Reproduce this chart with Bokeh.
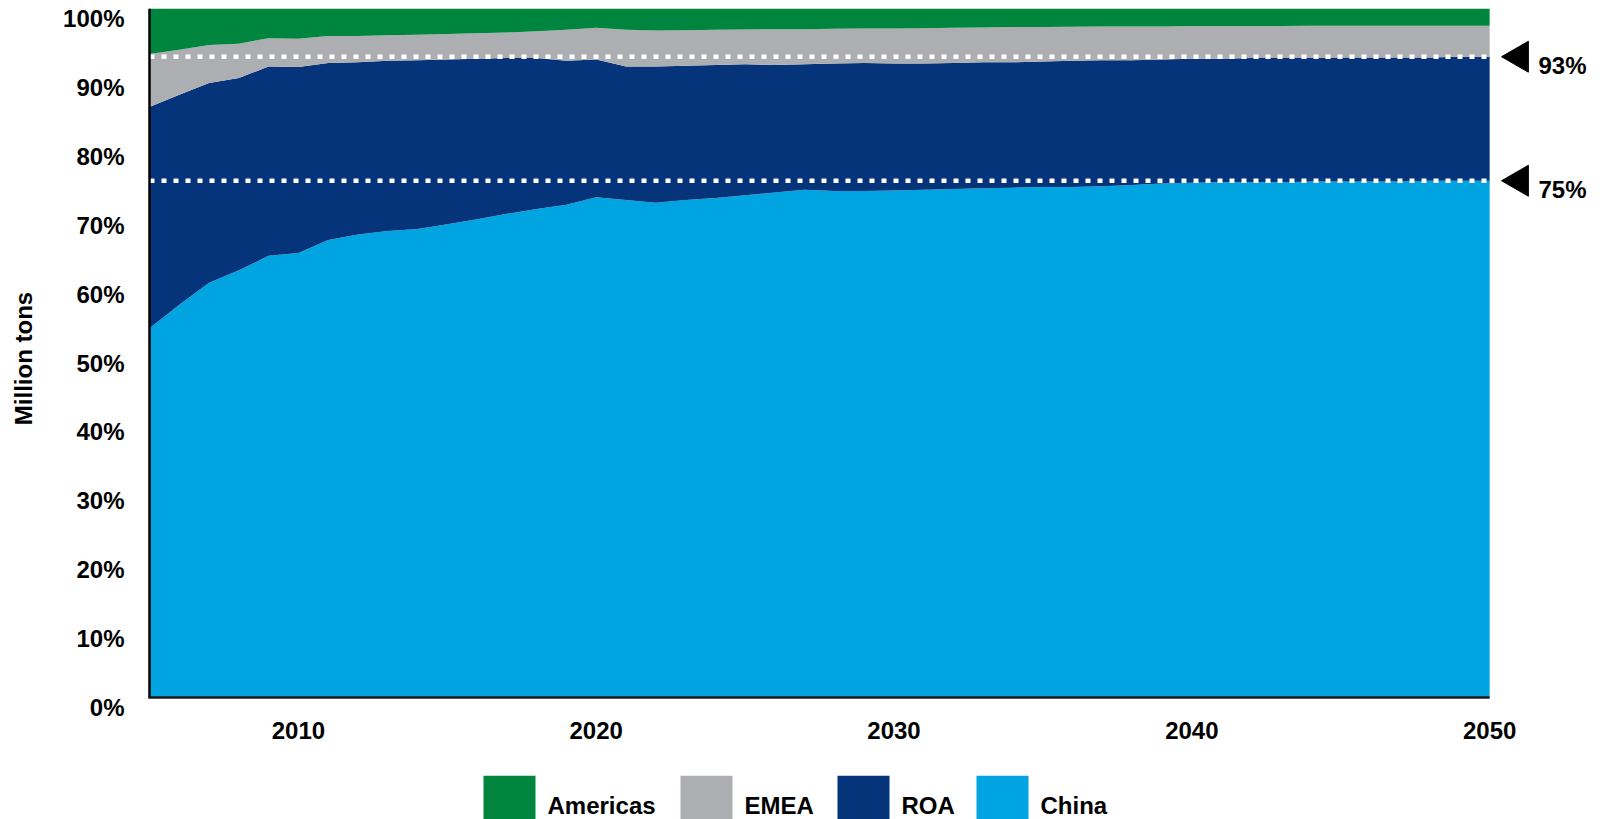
import math

from bokeh.core.properties import value
from bokeh.embed import file_html
from bokeh.layouts import column
from bokeh.models import ColumnDataSource, FixedTicker, LinearAxis, Range1d
from bokeh.plotting import figure
from bokeh.resources import INLINE

# ---- data: regional share of output, percent of total ----
years = list(range(2005, 2051))

china = [53.6, 57.0, 60.2, 62.0, 64.1, 64.5, 66.4, 67.2, 67.7, 68.0,
         68.7, 69.4, 70.2, 70.9, 71.5, 72.6, 72.2, 71.8, 72.2, 72.5,
         72.9, 73.3, 73.7, 73.5, 73.5, 73.6, 73.7, 73.8, 73.9, 74.0,
         74.1, 74.1, 74.2, 74.4, 74.6, 74.7, 74.8, 74.8, 74.8, 74.9,
         74.9, 74.9, 74.9, 75.0, 75.0, 75.0]

roa = [32.1, 30.5, 29.0, 27.9, 27.5, 27.0, 25.7, 25.0, 24.7, 24.5,
       23.9, 23.3, 22.6, 21.9, 20.9, 20.0, 19.4, 19.8, 19.5, 19.3,
       19.0, 18.5, 18.2, 18.5, 18.6, 18.4, 18.3, 18.3, 18.3, 18.2,
       18.2, 18.3, 18.3, 18.1, 18.0, 18.0, 17.9, 18.0, 18.0, 17.9,
       18.0, 18.0, 18.0, 17.9, 18.0, 18.0]

emea = [7.7, 6.5, 5.5, 5.0, 4.1, 4.1, 3.9, 3.8, 3.7, 3.7,
        3.7, 3.7, 3.7, 3.9, 4.5, 4.6, 5.3, 5.2, 5.15, 5.1,
        5.05, 5.2, 5.1, 5.05, 5.0, 5.1, 5.15, 5.1, 5.05, 5.1,
        5.0, 4.95, 4.9, 4.9, 4.8, 4.75, 4.75, 4.65, 4.65, 4.7,
        4.6, 4.6, 4.6, 4.6, 4.5, 4.5]

americas = [6.6, 6.0, 5.3, 5.1, 4.3, 4.4, 4.0, 4.0, 3.9, 3.8,
            3.7, 3.6, 3.5, 3.3, 3.1, 2.8, 3.1, 3.2, 3.15, 3.1,
            3.05, 3.0, 3.0, 2.95, 2.9, 2.9, 2.85, 2.8, 2.75, 2.7,
            2.7, 2.65, 2.6, 2.6, 2.6, 2.55, 2.55, 2.55, 2.55, 2.5,
            2.5, 2.5, 2.5, 2.5, 2.5, 2.5]

regions = ["Americas", "EMEA", "ROA", "China"]          # legend order
stack_order = ["china", "roa", "emea", "americas"]       # bottom to top
region_colors = ["#00853F", "#ADAEB1", "#06347A", "#00A4E1"]

# cumulative shares called out on the right edge
marked_shares = [93, 75]

x_ticks = [2010, 2020, 2030, 2040, 2050]
x_tick_labels = ["2010", "2020", "2030", "2040", "2050"]
y_ticks = [0, 10, 20, 30, 40, 50, 60, 70, 80, 90, 100]
y_tick_labels = ["0%", "10%", "20%", "30%", "40%", "50%", "60%", "70%", "80%", "90%", "100%"]

# ---- styling ----
FONT = "Liberation Sans"
TXT = "24px"
PX_PER_YEAR = 1342 / 45          # horizontal scale of the frame
PX_PER_PCT = 6.89                # vertical scale of the frame
LABEL_DROP = 10 / PX_PER_PCT     # y tick labels sit a little under their level

source = ColumnDataSource(dict(year=years, china=china, roa=roa,
                               emea=emea, americas=americas))

x_start = years[0] - 2 / PX_PER_YEAR
x_end = years[0] + 1455 / PX_PER_YEAR
y_start = -11 / PX_PER_PCT

p = figure(width=1602, height=775,
           x_range=Range1d(x_start, x_end), y_range=Range1d(y_start, 100),
           y_axis_location=None,
           output_backend="svg", toolbar_location=None,
           min_border_left=145, min_border_right=0,
           min_border_top=8, min_border_bottom=67)
p.outline_line_color = None
p.xgrid.visible = False
p.ygrid.visible = False
p.background_fill_color = "white"
p.border_fill_color = "white"

# stacked areas: China at the bottom, Americas on top
stack_colors = [region_colors[regions.index(n)] for n in ["China", "ROA", "EMEA", "Americas"]]
p.varea_stack(stackers=stack_order, x="year", color=stack_colors, source=source)

# dotted reference lines at the marked cumulative shares
p.segment(x0=[years[0]] * len(marked_shares), x1=[years[-1]] * len(marked_shares),
          y0=marked_shares, y1=marked_shares,
          line_color="white", line_width=4.5, line_dash="5 7")

# axis lines along the left and bottom of the areas
p.segment(x0=[years[0]], x1=[years[0]], y0=[0], y1=[100],
          line_color="black", line_width=2.5)
p.segment(x0=[years[0] - 1.25 / PX_PER_YEAR], x1=[years[-1]], y0=[0], y1=[0],
          line_color="#1a1a1a", line_width=2.5)

# pointers and labels to the right of the areas
mark_x = years[-1] + 1.0
p.scatter(x=[mark_x] * len(marked_shares), y=marked_shares, marker="triangle",
          size=31, angle=math.pi / 2, color="black")
p.text(x=[years[-1] + 1.64] * len(marked_shares), y=marked_shares,
       text=[f"{v}%" for v in marked_shares],
       text_font=value(FONT), text_font_style="bold", text_font_size=TXT,
       text_color="black", text_align="left", text_baseline="top", y_offset=-5)

# y axis on a range offset so the labels hang just below each level
p.extra_y_ranges = {"ylab": Range1d(y_start + LABEL_DROP, 100 + LABEL_DROP)}
ya = LinearAxis(y_range_name="ylab")
ya.ticker = FixedTicker(ticks=y_ticks)
ya.major_label_overrides = {t: s for t, s in zip(y_ticks, y_tick_labels)}
ya.major_tick_line_color = None
ya.minor_tick_line_color = None
ya.major_tick_out = 0
ya.major_tick_in = 0
ya.axis_line_color = None
ya.major_label_standoff = 23
ya.major_label_text_font = FONT
ya.major_label_text_font_style = "bold"
ya.major_label_text_font_size = TXT
ya.major_label_text_color = "black"
ya.axis_label = "Million tons"
ya.axis_label_text_font = FONT
ya.axis_label_text_font_style = "bold"
ya.axis_label_text_font_size = TXT
ya.axis_label_text_color = "black"
ya.axis_label_standoff = 23
p.add_layout(ya, "left")

# x axis
xa = p.xaxis[0]
xa.ticker = FixedTicker(ticks=x_ticks)
xa.major_label_overrides = {t: s for t, s in zip(x_ticks, x_tick_labels)}
xa.major_tick_line_color = None
xa.minor_tick_line_color = None
xa.major_tick_out = 0
xa.major_tick_in = 0
xa.axis_line_color = None
xa.major_label_standoff = 13
xa.major_label_text_font = FONT
xa.major_label_text_font_style = "bold"
xa.major_label_text_font_size = TXT
xa.major_label_text_color = "black"

# ---- legend strip (pixel coordinates) ----
leg = figure(width=1602, height=44, x_range=Range1d(147, 1602), y_range=Range1d(0, 44),
             output_backend="svg", toolbar_location=None,
             x_axis_location=None, y_axis_location=None,
             min_border_left=147, min_border_right=0, min_border_top=0, min_border_bottom=0)
leg.outline_line_color = None
leg.xgrid.visible = False
leg.ygrid.visible = False
leg.background_fill_color = "white"
leg.border_fill_color = "white"

swatch_left = [483, 680, 837, 976]
swatch_w = 52
leg.quad(left=swatch_left, right=[v + swatch_w for v in swatch_left],
         bottom=[-10] * 4, top=[44] * 4, color=region_colors, line_color=None)
leg.text(x=[v + 64 for v in swatch_left], y=[28] * 4, text=regions,
         text_font=value(FONT), text_font_style="bold", text_font_size=TXT,
         text_color="black", text_align="left", text_baseline="top")

layout = column(p, leg, spacing=0)

with open("out.html", "w") as f:
    f.write(file_html(layout, INLINE))
